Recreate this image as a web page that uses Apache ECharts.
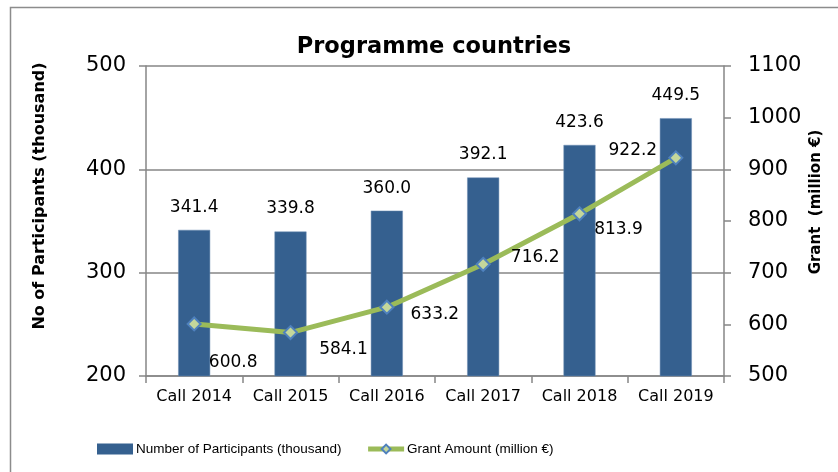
<!DOCTYPE html>
<html>
<head>
<meta charset="utf-8">
<script src="https://cdn.jsdelivr.net/npm/echarts@6/dist/echarts.min.js"></script>
<style>
  html, body { margin: 0; padding: 0; background: #fff; }
  #chart { width: 838px; height: 472px; }
</style>
</head>
<body>
<div id="chart"></div>
<script>
// data
const calls = ['Call 2014', 'Call 2015', 'Call 2016', 'Call 2017', 'Call 2018', 'Call 2019']
const participants = [341.4, 339.8, 360.0, 392.1, 423.6, 449.5]
const grants = [600.8, 584.1, 633.2, 716.2, 813.9, 922.2]
// where each grant label sits relative to its point
const grantLabelOffsets = [[39, 39], [53, 17], [48, 7], [52, -7], [39, 16], [-43, -7]]

const font = 'DejaVu Sans'
const axisGrey = '#868686'

const chart = echarts.init(document.getElementById('chart'))

const option = {
  animation: false,
  textStyle: { fontFamily: font },
  title: {
    text: 'Programme countries',
    left: 429,
    textAlign: 'center',
    top: 31,
    textStyle: { fontFamily: font, fontSize: 22.5, fontWeight: 'bold', color: '#000' },
  },
  graphic: [
    {
      type: 'rect',
      shape: { x: 10.5, y: 7.5, width: 860, height: 500 },
      style: { fill: 'none', stroke: '#8c8c8c', lineWidth: 1.5 },
      silent: true,
    },
    // axis titles sit a little above the plot's middle in the original
    {
      type: 'text',
      x: 40,
      y: 196,
      rotation: Math.PI / 2,
      style: {
        text: 'No of Participants (thousand)',
        font: 'bold 16px "DejaVu Sans"',
        fill: '#000',
        align: 'center',
        verticalAlign: 'middle',
      },
    },
    {
      type: 'text',
      x: 816,
      y: 202,
      rotation: Math.PI / 2,
      style: {
        text: 'Grant  (million €)',
        font: 'bold 15px "DejaVu Sans"',
        fill: '#000',
        align: 'center',
        verticalAlign: 'middle',
      },
    },
  ],
  legend: {
    left: 92,
    top: 437,
    itemWidth: 36,
    itemHeight: 11,
    itemGap: 24,
    textStyle: { fontFamily: 'Liberation Sans', fontSize: 13.5, color: '#000', padding: [0, 0, 0, -2] },
    data: [
      { name: 'Number of Participants (thousand)', icon: 'rect', itemStyle: { borderWidth: 0 } },
      { name: 'Grant Amount (million €)', lineStyle: { width: 5 } },
    ],
  },
  grid: { left: 146, right: 114, top: 66, bottom: 96 },
  xAxis: {
    type: 'category',
    data: calls,
    axisLine: { lineStyle: { color: axisGrey, width: 1.5 } },
    axisTick: { show: true, length: 7, lineStyle: { color: axisGrey, width: 1.5 } },
    axisLabel: { color: '#000', fontSize: 16, margin: 13, fontFamily: font, interval: 0 },
  },
  yAxis: [
    {
      type: 'value',
      min: 200,
      max: 500,
      interval: 100,
      axisLine: { show: true, lineStyle: { color: axisGrey, width: 1.5 } },
      axisTick: { show: true, length: 7, lineStyle: { color: axisGrey, width: 1.5 } },
      axisLabel: { color: '#000', fontSize: 21, margin: 20, fontFamily: font },
      splitLine: { show: true, lineStyle: { color: axisGrey, width: 1.5 } },
    },
    {
      type: 'value',
      min: 500,
      max: 1100,
      interval: 100,
      axisLine: { show: true, lineStyle: { color: axisGrey, width: 1.5 } },
      axisTick: { show: true, length: 7, lineStyle: { color: axisGrey, width: 1.5 } },
      axisLabel: { color: '#000', fontSize: 21, margin: 24, fontFamily: font, formatter: (v) => String(v) },
      splitLine: { show: false },
    },
  ],
  series: [
    {
      name: 'Number of Participants (thousand)',
      type: 'bar',
      yAxisIndex: 0,
      data: participants,
      barWidth: 32,
      itemStyle: { color: '#35608F', borderColor: '#6f8fb5', borderWidth: 0.5 },
      label: {
        show: true,
        position: 'top',
        distance: 14,
        fontSize: 17,
        fontFamily: font,
        color: '#000',
        formatter: (p) => p.value.toFixed(1),
      },
    },
    {
      name: 'Grant Amount (million €)',
      type: 'line',
      yAxisIndex: 1,
      data: grants.map((v, i) => ({
        value: v,
        label: { offset: grantLabelOffsets[i] },
      })),
      lineStyle: { color: '#9BBB59', width: 5 },
      symbol: 'diamond',
      symbolSize: 13,
      itemStyle: { color: '#C4D79B', borderColor: '#4F81BD', borderWidth: 2 },
      z: 5,
      label: {
        show: true,
        position: 'inside',
        align: 'center',
        verticalAlign: 'middle',
        fontSize: 17,
        fontFamily: font,
        color: '#000',
        formatter: (p) => p.value.toFixed(1),
      },
    },
  ],
}

chart.setOption(option)
</script>
</body>
</html>
